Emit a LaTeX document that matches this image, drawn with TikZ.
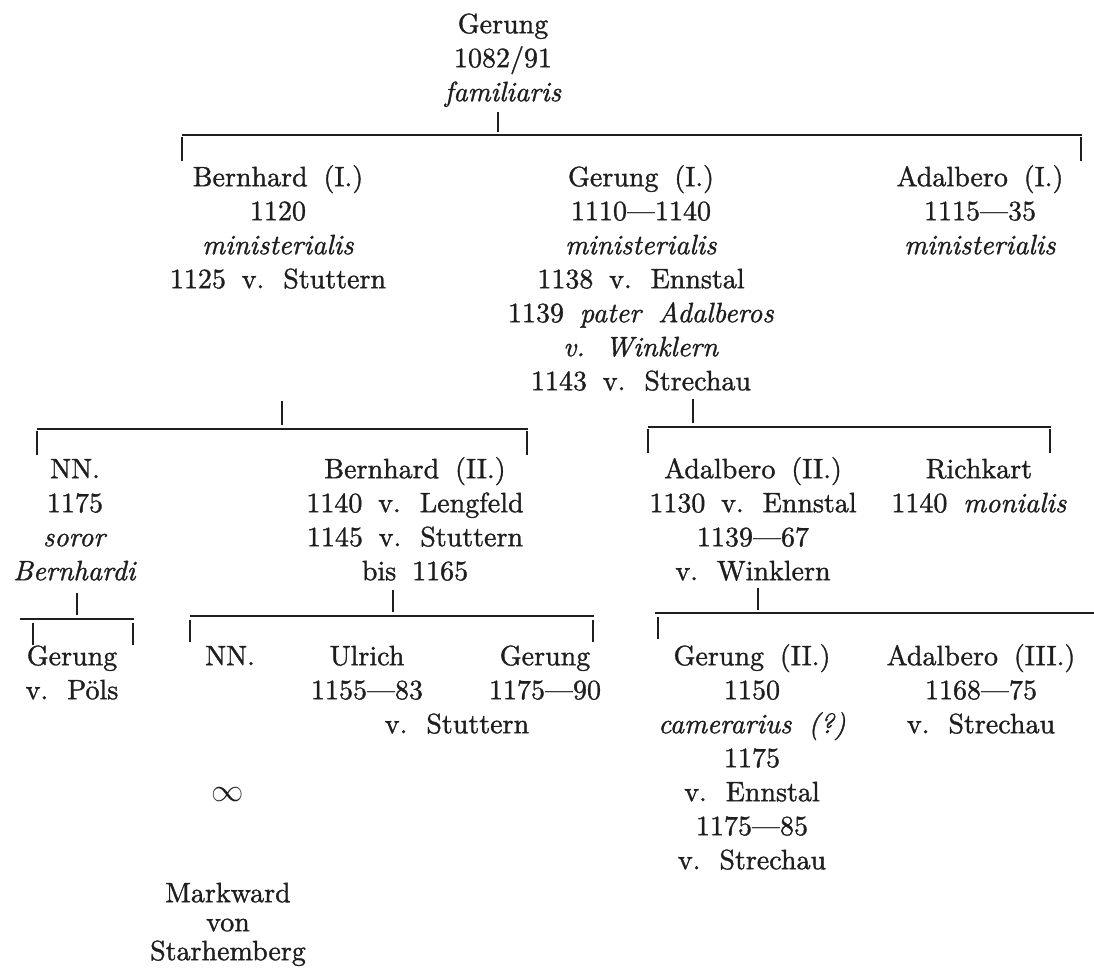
\documentclass[tikz,border=0pt]{standalone}
\usepackage{fontspec}
\setmainfont{lmroman10}[Extension=.otf, UprightFont=*-regular, ItalicFont=*-italic, BoldFont=*-bold, WordSpace=1.7, UprightFeatures={FakeBold=1.2}, ItalicFeatures={FakeBold=1.2}]
\usepackage{graphicx}
\definecolor{ink}{HTML}{1E1E1E}
\newcommand{\hstrut}{\rule{0pt}{21pt}}
\begin{document}
\begin{tikzpicture}[x=1pt,y=-1pt,
  blk/.style={align=center, inner sep=0pt, anchor=north, text=ink, font=\fontsize{28}{34}\selectfont},
  tight/.style={blk, font=\fontsize{28}{29}\selectfont},
  bar/.style={draw=ink, line width=1.5pt},
  tick/.style={draw=ink, line width=1.2pt}]
\useasboundingbox (0,0) rectangle (1094,976);

% generation 0
\node[blk] (g0) at (503,12) {\hstrut Gerung\\1082/91\\\textit{familiaris}};

% generation 1
\node[blk] (b1) at (278,165) {\hstrut Bernhard (I.)\\1120\\\textit{ministerialis}\\1125 v. Stuttern};
\node[blk] (g1) at (641,165) {\hstrut Gerung (I.)\\1110—1140\\\textit{ministerialis}\\1138 v. Ennstal\\1139 \textit{pater Adalberos}\\\textit{v. Winklern}\\1143 v. Strechau};
\node[blk] (a1) at (980,165) {\hstrut Adalbero (I.)\\1115—35\\\textit{ministerialis}};

% generation 2
\node[blk] (nn1) at (75,457) {\hstrut NN.\\1175\\\textit{soror}\\\textit{Bernhardi}};
\node[blk] (b2) at (415,457) {\hstrut Bernhard (II.)\\1140 v. Lengfeld\\1145 v. Stuttern\\bis 1165};
\node[blk] (a2) at (753,457) {\hstrut Adalbero (II.)\\1130 v. Ennstal\\1139—67\\v. Winklern};
\node[blk] (r2) at (979,457) {\hstrut Richkart\\1140 \textit{monialis}};

% generation 3
\node[blk] (gp) at (72,644) {\hstrut Gerung\\v. Pöls};
\node[blk] (nn2) at (230,644) {\hstrut NN.};
\node[blk] (ul) at (367,644) {\hstrut Ulrich\\1155—83};
\node[blk] (gc) at (545,644) {\hstrut Gerung\\1175—90};
\node[blk] (vs) at (457,712) {\hstrut v. Stuttern};
\node[blk] (g2) at (752,644) {\hstrut Gerung (II.)\\1150\\\textit{camerarius (?)}\\1175\\v. Ennstal\\1175—85\\v. Strechau};
\node[blk] (a3) at (981,644) {\hstrut Adalbero (III.)\\1168—75\\v. Strechau};

\node[blk, anchor=center] (inf) at (228,795) {\scalebox{1.3}{$\infty$}};
\node[tight] (mk) at (228,881) {\hstrut Markward\\von\\Starhemberg};

% bar under Gerung
\coordinate (b1L) at (182,135);
\coordinate (b1R) at (1082,135);
\coordinate (b1M) at (498,135);
\coordinate (b1T) at (1081,135);
\draw[bar] (b1L) -- (b1R);
\draw[tick] ([yshift=3pt]b1M) -- ++(0,-20);
\draw[tick] ([yshift=-2pt]b1L) -- ++(0,24);
\draw[tick] ([yshift=-2pt]b1T) -- ++(0,24);

% bar under Bernhard (I.)
\coordinate (b2L) at (37,429);
\coordinate (b2R) at (528,429);
\coordinate (b2M) at (282,429);
\coordinate (b2T) at (527,429);
\draw[bar] (b2L) -- (b2R);
\draw[tick] ([yshift=4pt]b2M) -- ++(0,-24);
\draw[tick] ([yshift=-2pt]b2L) -- ++(0,24);
\draw[tick] ([yshift=-2pt]b2T) -- ++(0,24);

% bar under Gerung (I.)
\coordinate (b3L) at (648,427);
\coordinate (b3R) at (1051,427);
\coordinate (b3M) at (693,427);
\coordinate (b3T) at (1050,427);
\draw[bar] (b3L) -- (b3R);
\draw[tick] ([yshift=4pt]b3M) -- ++(0,-24);
\draw[tick] ([yshift=-2pt]b3L) -- ++(0,24);
\draw[tick] ([yshift=-2pt]b3T) -- ++(0,24);

% bar under NN. soror Bernhardi
\coordinate (b4L) at (20,619);
\coordinate (b4R) at (134,619);
\coordinate (b4M) at (77,619);
\coordinate (b4T) at (33,619);
\coordinate (b4U) at (133,619);
\draw[bar] (b4L) -- (b4R);
\draw[tick] ([yshift=4pt]b4M) -- ++(0,-22);
\draw[tick] ([yshift=-4pt]b4T) -- ++(0,22);
\draw[tick] ([yshift=-4pt]b4U) -- ++(0,22);

% bar under Bernhard (II.)
\coordinate (b5L) at (190,616);
\coordinate (b5R) at (594,616);
\coordinate (b5M) at (393,616);
\coordinate (b5T) at (593,616);
\draw[bar] (b5L) -- (b5R);
\draw[tick] ([yshift=4pt]b5M) -- ++(0,-22);
\draw[tick] ([yshift=-4pt]b5L) -- ++(0,22);
\draw[tick] ([yshift=-4pt]b5T) -- ++(0,22);

% bar under Adalbero (II.)
\coordinate (b6L) at (655,613);
\coordinate (b6R) at (1094,613);
\coordinate (b6M) at (758,613);
\coordinate (b6T) at (658,613);
\draw[bar] (b6L) -- (b6R);
\draw[tick] ([yshift=3pt]b6M) -- ++(0,-22);
\draw[tick] ([yshift=-4pt]b6T) -- ++(0,22);
\end{tikzpicture}
\end{document}
